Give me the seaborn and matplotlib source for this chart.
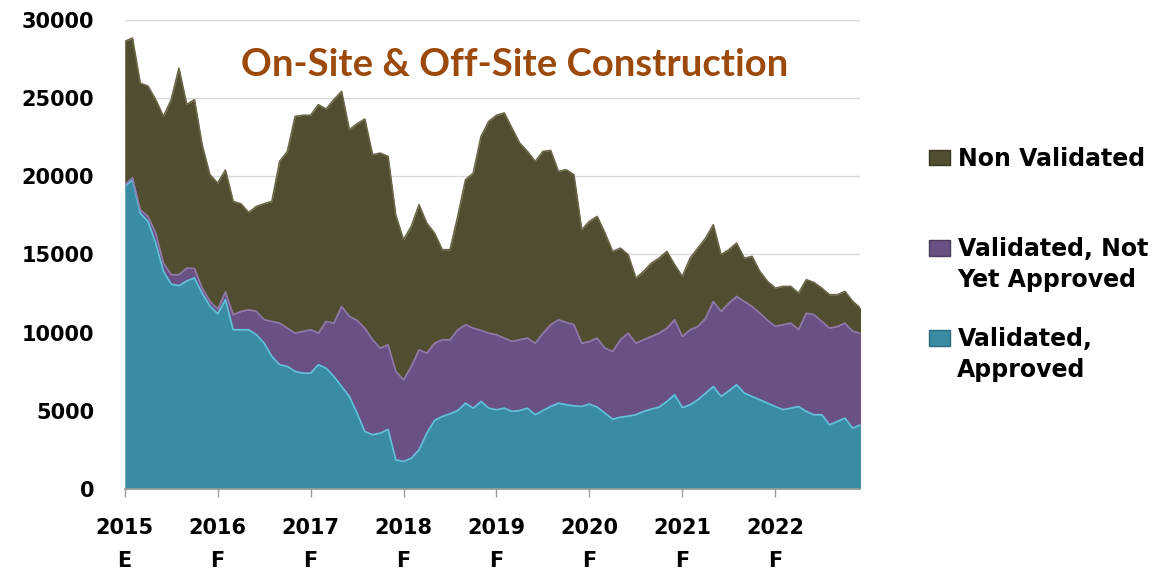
import matplotlib
matplotlib.use("Agg")
import matplotlib.pyplot as plt
import seaborn as sns
import pandas as pd
import numpy as np
from matplotlib.patches import Patch

# monthly values, Jan 2015 .. Dec 2022
approved = [19350, 19780, 17640, 17110, 15720, 13910, 13100, 13000, 13300, 13500, 12500, 11700,
            11200, 12100, 10180, 10180, 10180, 9860, 9320, 8470, 7940, 7830, 7510, 7400,
            7400, 7940, 7720, 7190, 6550, 5910, 4840, 3670, 3460, 3560, 3800, 1860,
            1750, 1960, 2500, 3560, 4370, 4630, 4800, 5010, 5480, 5160, 5590, 5160,
            5060, 5160, 4950, 5010, 5160, 4740, 5010, 5270, 5480, 5380, 5310, 5270,
            5420, 5230, 4840, 4460, 4580, 4650, 4740, 4950, 5100, 5230, 5590, 6020,
            5200, 5380, 5700, 6120, 6550, 5910, 6270, 6660, 6120, 5910, 5700, 5480,
            5270, 5060, 5160, 5270, 4950, 4740, 4740, 4100, 4310, 4520, 3880, 4100]

not_yet_approved = [100, 120, 220, 320, 640, 530, 600, 700, 820, 600, 340, 300,
                    300, 500, 960, 1170, 1280, 1490, 1500, 2240, 2660, 2450, 2450, 2670,
                    2780, 2020, 2990, 3410, 5120, 5120, 5940, 6610, 6080, 5440, 5420, 5650,
                    5230, 5870, 6400, 5120, 4950, 4910, 4740, 5170, 5020, 5120, 4550, 4800,
                    4800, 4480, 4480, 4530, 4480, 4580, 4950, 5230, 5340, 5270, 5190, 4050,
                    4010, 4410, 4160, 4330, 4960, 5310, 4580, 4590, 4650, 4730, 4690, 4800,
                    4550, 4800, 4690, 4800, 5440, 5440, 5610, 5650, 5870, 5760, 5540, 5300,
                    5120, 5440, 5440, 4910, 6290, 6400, 5970, 6180, 6080, 6080, 6190, 5860]

non_validated = [9180, 8940, 8100, 8340, 8540, 9390, 11200, 13220, 10480, 10800, 9160, 8100,
                 8060, 7800, 7250, 6890, 6220, 6720, 7420, 7680, 10350, 11310, 13870, 13830,
                 13720, 14620, 13590, 14300, 13760, 11950, 12580, 13380, 11840, 12480, 12050, 9990,
                 8960, 8960, 9280, 8320, 7040, 5760, 5760, 7250, 9280, 9920, 12410, 13550,
                 14040, 14410, 13650, 12580, 11950, 11630, 11630, 11150, 9490, 9770, 9600, 7260,
                 7680, 7790, 7380, 6400, 5860, 5020, 4160, 4370, 4690, 4800, 4910, 3520,
                 3840, 4580, 5010, 5120, 4910, 3630, 3420, 3410, 2770, 3200, 2670, 2490,
                 2450, 2450, 2350, 2340, 2140, 2060, 2130, 2140, 2030, 2030, 1920, 1600]

years = ['2015', '2016', '2017', '2018', '2019', '2020', '2021', '2022']
year_flags = ['E', 'F', 'F', 'F', 'F', 'F', 'F', 'F']

df = pd.DataFrame({
    'month': np.arange(len(approved)),
    'Validated, Approved': approved,
    'Validated, Not Yet Approved': not_yet_approved,
    'Non Validated': non_validated,
})
df['validated_total'] = df['Validated, Approved'] + df['Validated, Not Yet Approved']
df['total'] = df['validated_total'] + df['Non Validated']

teal = '#3A8CA5'
purple = '#6A5185'
olive = '#514D31'

sns.set_theme(style="white")
plt.rcParams['font.family'] = ['DejaVu Sans']

fig, ax = plt.subplots(figsize=(11.55, 5.71), dpi=100)
fig.subplots_adjust(left=0.108, right=0.745, top=0.965, bottom=0.144)

ax.stackplot(df['month'], df['Validated, Approved'], df['Validated, Not Yet Approved'],
             df['Non Validated'], colors=[teal, purple, olive], linewidth=0, zorder=2)

# thin boundary lines between the layers
for col, c in [('Validated, Approved', '#5fc3dc'), ('validated_total', '#8f78aa'), ('total', '#6b6748')]:
    sns.lineplot(data=df, x='month', y=col, color=c, linewidth=1.2, ax=ax, zorder=3)

ax.set_xlim(0, len(approved) - 1)
ax.set_ylim(0, 30000)
ax.set_yticks(range(0, 30001, 5000))
ax.set_xticks(range(0, 96, 12))
ax.set_xticklabels([f"{y}\n{f}" for y, f in zip(years, year_flags)], linespacing=1.8)
ax.set_xlabel('')
ax.set_ylabel('')

ax.yaxis.grid(True, color='#d9d9d9', linewidth=1)
ax.xaxis.grid(False)
ax.set_axisbelow(True)
for s in ['top', 'right', 'left']:
    ax.spines[s].set_visible(False)
ax.spines['bottom'].set_color('#9a9a9a')
ax.spines['bottom'].set_zorder(4)

ax.tick_params(axis='x', bottom=True, length=6, width=1, color='#9a9a9a', pad=15)
ax.tick_params(axis='y', left=False, length=0, pad=22)
for lab in ax.get_xticklabels() + ax.get_yticklabels():
    lab.set_fontsize(15)
    lab.set_fontweight('bold')
    lab.set_color('black')

ax.text(0.53, 0.905, 'On-Site & Off-Site Construction', transform=ax.transAxes,
        ha='center', va='center', color='#9C4A0C', fontsize=27.5, fontweight='bold',
        family=['Lato', 'DejaVu Sans'], zorder=5)

# legend: first line of each label next to its swatch, second lines as text below
leg = fig.legend(handles=[Patch(facecolor=olive, edgecolor='#3a3823'),
                          Patch(facecolor=purple, edgecolor='#4a3a5e'),
                          Patch(facecolor=teal, edgecolor='#2a6a7e')],
                 labels=['Non Validated', 'Validated, Not', 'Validated,'],
                 loc='upper left', bbox_to_anchor=(0.7945, 1 - 135 / 571), frameon=False,
                 prop={'weight': 'bold', 'size': 17}, handlelength=0.85, handleheight=0.65,
                 handletextpad=0.35, borderpad=0, labelspacing=2.8)
for t in leg.get_texts():
    t.set_color('black')

for txt, ypx in [('Yet Approved', 280), ('Approved', 370)]:
    fig.text(957 / 1155, 1 - ypx / 571, txt, ha='left', va='center', fontsize=17,
             fontweight='bold', color='black')

fig.savefig('out.png', dpi=100)
